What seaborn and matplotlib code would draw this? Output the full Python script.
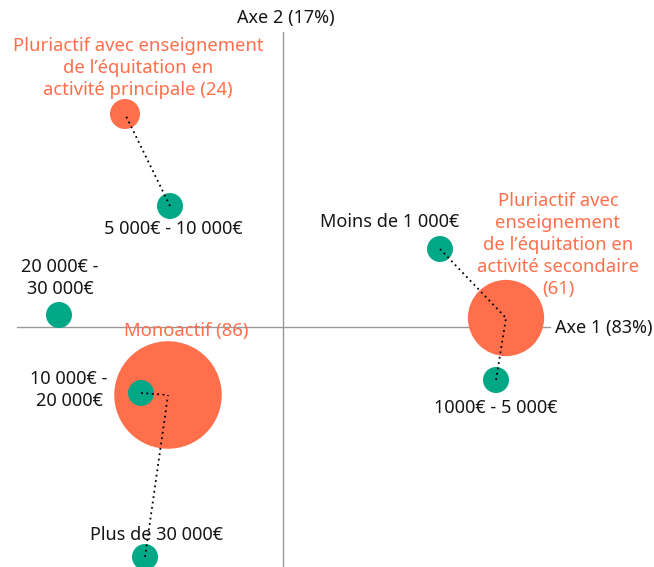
import seaborn as sns
import matplotlib.pyplot as plt
import pandas as pd

# Coordonnées sur les axes factoriels (unités arbitraires)
activites = ["Pluriactif avec enseignement\nde l’équitation en\nactivité principale (24)",
             "Pluriactif avec\nenseignement\nde l’équitation en\nactivité secondaire\n(61)",
             "Monoactif (86)"]
act_x = [-1.58, 2.23, -1.15]
act_y = [2.13, 0.09, -0.68]
act_n = [24, 61, 86]

revenus = ["5 000€ - 10 000€", "Moins de 1 000€", "1000€ - 5 000€",
           "20 000€ -\n30 000€", "10 000€ -\n20 000€", "Plus de 30 000€"]
rev_x = [-1.13, 1.57, 2.13, -2.24, -1.42, -1.38]
rev_y = [1.21, 0.78, -0.53, 0.12, -0.66, -2.30]
# activité la plus proche de chaque tranche de revenu
rev_lien = [0, 1, 1, None, 2, 2]

ORANGE = "#FF6F4C"
VERT = "#00A888"

sns.set_style("white")
plt.rcParams['font.family'] = ['Noto Sans', 'DejaVu Sans']

fig = plt.figure(figsize=(6.54, 5.67), dpi=100)
ax = fig.add_axes([0, 0, 1, 1])
ax.set_xlim(-2.83, 3.71)
ax.set_ylim(-2.40, 3.27)
ax.axis("off")

# axes
ax.plot([0, 0], [-2.40, 2.95], color="#999999", lw=1, zorder=0)
ax.plot([-2.66, 2.67], [0, 0], color="#999999", lw=1, zorder=0)
ax.text(0.03, 3.09, "Axe 2 (17%)", ha="center", va="center", fontsize=13, color="#161616")
ax.text(2.72, -0.01, "Axe 1 (83%)", ha="left", va="center", fontsize=13, color="#161616")

df_act = pd.DataFrame({"x": act_x, "y": act_y, "n": act_n})
# rayon en pixels ~ 0.625 * effectif, converti en taille de marqueur (pt^2)
tailles = {n: (2 * 0.625 * n * 0.72) ** 2 for n in act_n}
sns.scatterplot(data=df_act, x="x", y="y", size="n", sizes=tailles, color=ORANGE,
                edgecolor="none", legend=False, ax=ax, zorder=2)

df_rev = pd.DataFrame({"x": rev_x, "y": rev_y})
sns.scatterplot(data=df_rev, x="x", y="y", s=(26 * 0.72) ** 2, color=VERT,
                edgecolor="none", legend=False, ax=ax, zorder=3)

# liens pointillés
for i, j in enumerate(rev_lien):
    if j is None:
        continue
    ax.plot([rev_x[i], act_x[j]], [rev_y[i], act_y[j]], color="black", lw=1.3,
            ls=(0, (1, 2)), zorder=4)

# étiquettes des activités
act_lab = [(-1.45, 2.59), (2.75, 0.82), (-0.97, -0.04)]
for lab, (tx, ty) in zip(activites, act_lab):
    ax.text(tx, ty, lab, ha="center", va="center", fontsize=13.3, color=ORANGE,
            linespacing=1.28)

# étiquettes des revenus
rev_lab = [(-1.10, 0.98), (1.07, 1.05), (2.13, -0.81), (-2.23, 0.49), (-2.14, -0.63), (-1.26, -2.08)]
for lab, (tx, ty) in zip(revenus, rev_lab):
    ax.text(tx, ty, lab, ha="center", va="center", fontsize=13, color="#161616",
            linespacing=1.3)

fig.savefig("out.png", dpi=100, facecolor="white")
